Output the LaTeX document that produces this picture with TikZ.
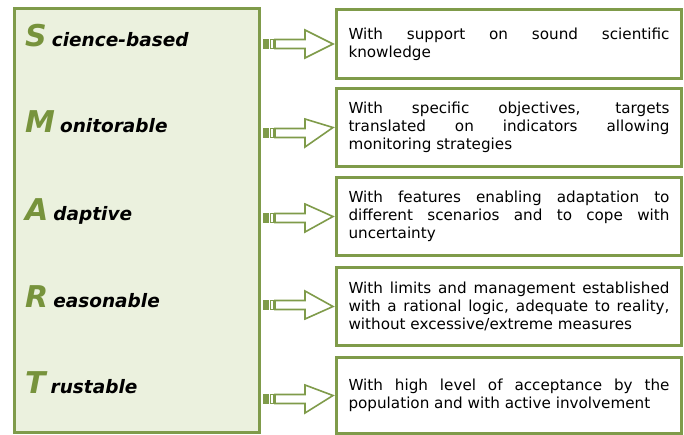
\documentclass[tikz,border=0pt]{standalone}
\usepackage{fontspec}
\setmainfont{DejaVu Sans}
\usetikzlibrary{calc}
\definecolor{gborder}{HTML}{7F9B4A}
\definecolor{gfill}{HTML}{EBF1DE}
\definecolor{gletter}{HTML}{77933C}
\tikzset{
  leftbox/.style={draw=gborder, fill=gfill, line width=3pt},
  rbox/.style={draw=gborder, fill=white, line width=3pt, minimum width=345pt, inner sep=0pt, anchor=north west,
     text width=321pt, align=justify, font=\fontsize{15.2}{17.8}\selectfont},
  lab/.style={anchor=base west, inner sep=0pt, font=\fontsize{18.5}{20}\selectfont\bfseries\itshape},
  arr/.style={draw=gborder, fill=white, line width=1.6pt, line join=miter},
  stripe2/.style={draw=gborder, fill=white, line width=1.2pt},
}
\newcommand{\bigletter}[1]{{\color{gletter}\fontsize{30}{32}\selectfont #1}\hspace{5pt}}
\begin{document}
\begin{tikzpicture}[x=1pt,y=-1pt]
\useasboundingbox (0,0) rectangle (684,434);
\draw[leftbox] (14,8) rectangle (259,432);
\node[lab] (s) at (25,46) {\bigletter{S}cience-based};
\node[lab] (m) at (25,132) {\bigletter{M}onitorable};
\node[lab] (a) at (25,220) {\bigletter{A}daptive};
\node[lab] (r) at (25,307) {\bigletter{R}easonable};
\node[lab] (t) at (25,393) {\bigletter{T}rustable};

\newcommand{\rb}[5]{\node[rbox, minimum height=#3pt] (#1) at (335,#2) {\hyphenpenalty=10000\exhyphenpenalty=10000 #4};
  \coordinate (#1a) at (263,#5);
  \fill[gborder] ($(#1a)+(0,-5)$) rectangle ($(#1a)+(6,5)$);
  \draw[stripe2] ($(#1a)+(7.5,-4.5)$) rectangle ($(#1a)+(10.5,4.5)$);
  \draw[arr] ($(#1a)+(12,-4.5)$) -- ($(#1a)+(42,-4.5)$) -- ($(#1a)+(42,-14)$) -- ($(#1.west)+(-2,0)$) -- ($(#1a)+(42,14)$) -- ($(#1a)+(42,4.5)$) -- ($(#1a)+(12,4.5)$) -- cycle;
}
\rb{b1}{8}{69}{With support on sound scientific\linebreak knowledge}{44}
\rb{b2}{87}{78}{With specific objectives, targets\linebreak translated on indicators allowing\linebreak monitoring strategies}{133}
\rb{b3}{176}{78}{With features enabling adaptation to\linebreak different scenarios and to cope with\linebreak uncertainty}{218}
\rb{b4}{266}{78}{With limits and management established\linebreak with a rational logic, adequate to reality,\linebreak without excessive/extreme measures}{305}
\rb{b5}{356}{76}{With high level of acceptance by the\linebreak population and with active involvement}{399}
\end{tikzpicture}
\end{document}
